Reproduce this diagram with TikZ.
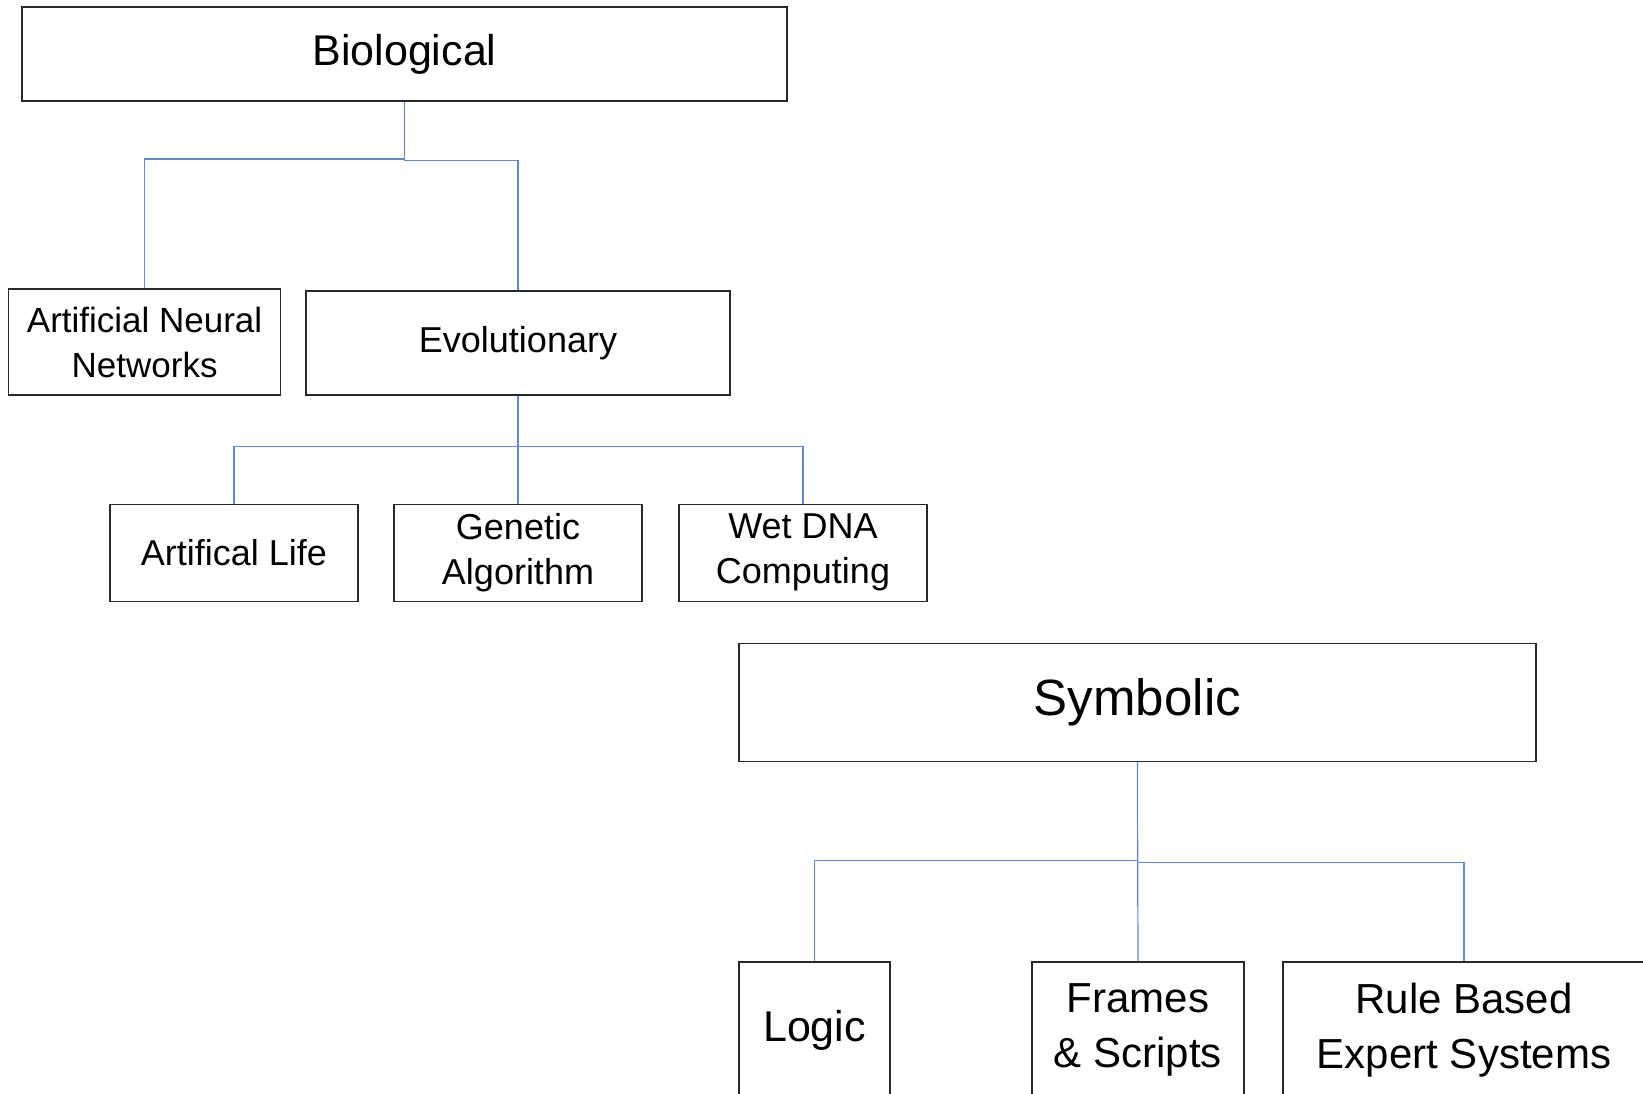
\documentclass[tikz,border=0pt]{standalone}
\usepackage{fontspec}
\setmainfont{Liberation Sans}
\definecolor{linkblue}{RGB}{95,138,210}
\definecolor{boxline}{RGB}{40,40,40}
\begin{document}
\begin{tikzpicture}[x=1pt,y=-1pt,
  box/.style={draw=boxline,line width=1.3pt,rectangle,inner sep=0pt,align=center,fill=white},
  link/.style={draw=linkblue,line width=1.2pt}]
\useasboundingbox (0,0) rectangle (1643,1093);
\fill[white] (0,0) rectangle (1643,1093);
% Biological tree
\node[box,minimum width=765,minimum height=94,font={\fontsize{43}{50}\selectfont}] (bio) at (404.5,54) {Biological};
\node[box,minimum width=272,minimum height=106,font={\fontsize{35}{45}\selectfont}] (ann) at (144.6,342) {Artificial Neural\\Networks};
\node[box,minimum width=424,minimum height=104,font={\fontsize{36}{45}\selectfont}] (evo) at (518,343) {Evolutionary};
\node[box,minimum width=248,minimum height=97,font={\fontsize{36}{45}\selectfont}] (alife) at (234,552.7) {Artifical Life};
\node[box,minimum width=248,minimum height=97,font={\fontsize{36}{45}\selectfont}] (ga) at (518,552.7) {Genetic\\Algorithm};
\node[box,minimum width=248,minimum height=97,font={\fontsize{36}{45}\selectfont}] (dna) at (803,552.7) {Wet DNA\\Computing};
\coordinate (bioj) at (404.5,159);
\coordinate (bioj2) at (404.5,160.5);
\coordinate (evoj) at (518,446.4);
\draw[link] (bio.south) -- (bioj2);
\draw[link] (bioj) -| (ann.north);
\draw[link] (bioj2) -| (evo.north);
\draw[link] (evo.south) -- (ga.north);
\draw[link] (evoj) -| (alife.north);
\draw[link] (evoj) -| (dna.north);
% Symbolic tree
\node[box,minimum width=797,minimum height=118,font={\fontsize{51}{60}\selectfont}] (sym) at (1137.4,702.5) {Symbolic};
\node[box,minimum width=151,minimum height=136,font={\fontsize{43}{55}\selectfont}] (logic) at (814.5,1030) {Logic};
\node[box,minimum width=212,minimum height=136,font={\fontsize{42}{55}\selectfont}] (frames) at (1138,1030) {Frames\\\& Scripts};
\node[box,minimum width=362,minimum height=136,font={\fontsize{42}{55}\selectfont}] (rule) at (1464,1030) {Rule Based\\Expert Systems};
\coordinate (symj) at (1137.4,860.2);
\coordinate (symj2) at (1137.4,862.5);
\draw[link] (sym.south) -- (frames.north);
\draw[link] (symj) -| (logic.north);
\draw[link] (symj2) -| (rule.north);
\end{tikzpicture}
\end{document}
